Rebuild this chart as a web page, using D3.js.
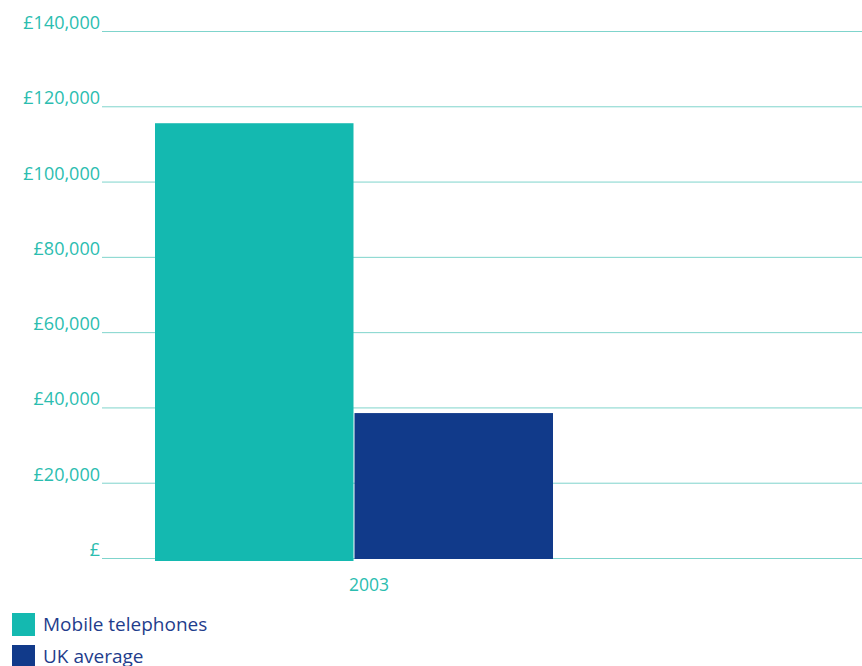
<!DOCTYPE html>
<html lang="en">
<head>
<meta charset="UTF-8" />
<title>Mobile telephones vs UK average</title>
<script src="https://d3js.org/d3.v7.min.js"></script>
<style>
    body { margin: 0; background: #fff; font-family: 'Open Sans', sans-serif; }
    svg { display: block; }
    .grid line { stroke: #7fd4cc; stroke-width: 1; }
    .grid path { stroke-width: 0; }
    .ytick text { fill: #2bbdb0; font-size: 18px; }
    .xlabel { fill: #2bbdb0; font-size: 17.5px; }
    .legend text { fill: #1f3d8c; font-size: 19px; }
</style>
</head>
<body>
<svg width="862" height="666"></svg>
<script>
    // data
    const years = ['2003'];
    const seriesNames = ['Mobile telephones', 'UK average'];
    const mobileValues = [115500];
    const ukValues = [38500];
    const yTicks = [0, 20000, 40000, 60000, 80000, 100000, 120000, 140000];
    const colors = ['#14b9b0', '#113a8a'];

    const svg = d3.select('svg');

    const yScale = d3.scaleLinear()
      .domain([0, 140000])
      .range([558, 31]);

    const xScale = d3.scaleBand()
      .domain(years)
      .range([155, 553])
      .padding(0);

    const xSub = d3.scaleBand()
      .domain(seriesNames)
      .range([0, xScale.bandwidth()])
      .paddingInner(0.005);

    // horizontal grid lines
    svg.append('g')
      .attr('class', 'grid')
      .attr('transform', 'translate(102, 0)')
      .call(d3.axisLeft(yScale)
        .tickValues(yTicks)
        .tickSize(-760)
        .tickFormat(''));

    // tick labels sit just above each line
    svg.append('g')
      .attr('class', 'ytick')
      .selectAll('text')
      .data(yTicks)
      .enter()
      .append('text')
      .attr('x', 100)
      .attr('y', (d) => yScale(d) - 2)
      .attr('text-anchor', 'end')
      .text((d) => d === 0 ? '£' : '£' + d3.format(',')(d));

    const rows = years.map((y, i) => ({ year: y, values: [mobileValues[i], ukValues[i]] }));

    const groups = svg.selectAll('.year')
      .data(rows)
      .enter()
      .append('g')
      .attr('class', 'year')
      .attr('transform', (d) => `translate(${xScale(d.year)}, 0)`);

    groups.selectAll('rect')
      .data((d) => d.values.map((v, j) => ({ name: seriesNames[j], value: v, color: colors[j] })))
      .enter()
      .append('rect')
      .attr('x', (d) => xSub(d.name))
      .attr('y', (d) => yScale(d.value))
      .attr('width', xSub.bandwidth())
      .attr('height', (d, j) => yScale(0) - yScale(d.value) + (j === 0 ? 3 : 1))
      .style('fill', (d) => d.color);

    groups.append('text')
      .attr('class', 'xlabel')
      .attr('x', xScale.bandwidth() / 2 + 15)
      .attr('y', 591)
      .attr('text-anchor', 'middle')
      .text((d) => d.year);

    // legend
    const legend = svg.append('g')
      .attr('class', 'legend')
      .selectAll('g')
      .data(seriesNames)
      .enter()
      .append('g')
      .attr('transform', (d, i) => `translate(12, ${613 + i * 32})`);

    legend.append('rect')
      .attr('width', 23)
      .attr('height', 23)
      .style('fill', (d, i) => colors[i]);

    legend.append('text')
      .attr('x', 31)
      .attr('y', 18)
      .text((d) => d);
</script>
</body>
</html>
